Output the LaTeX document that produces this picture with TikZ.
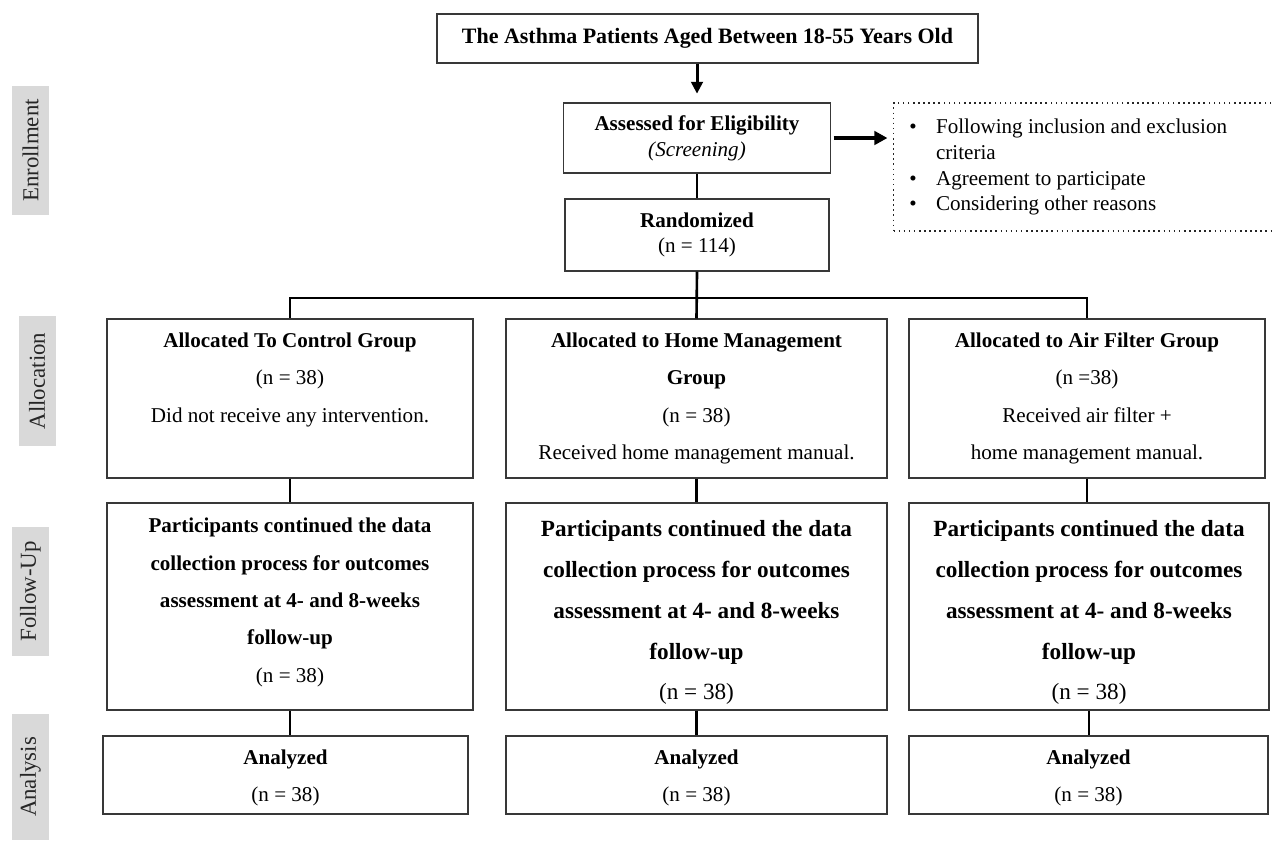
\documentclass[tikz,border=0pt]{standalone}
\usepackage{fontspec}
\setmainfont{Liberation Serif}
\usetikzlibrary{arrows.meta}

\begin{document}
\begin{tikzpicture}
[x=0.02cm, y=-0.02cm,%
  boxDecorate/.style={draw=black!78, line width=0.6pt, align=center, inner sep=0pt,
    font=\fontsize{12}{21.3}\selectfont},
  boxSize/.style 2 args={minimum width=#1*0.02cm, minimum height=#2*0.02cm},
  textDecorate/.style={align=center, inner sep=0pt},
  sideDecorate/.style={fill=black!15, rotate=90, inner sep=0pt, minimum height=37*0.02cm,
    font=\fontsize{13}{15}\selectfont, text=black!85},
  lineDecorate/.style={-, line width=1.5pt},
  arrowDecorate/.style={-{Triangle[length=6.8pt, width=6.6pt]}, line width=1.7pt}]
\useasboundingbox (0,0) rectangle (1273,840);
%% side labels
\foreach \sname/\stext/\x/\y/\len in {
  enroll/Enrollment/30.5/150.5/129, alloc/Allocation/37/381/130,
  follow/Follow-Up/30.5/591.5/129, analysis/Analysis/30.5/777/126}
{
  \node[sideDecorate, minimum width=\len*0.02cm] (side\sname) at (\x,\y) {\stext};
}
%% enrollment
\node[boxDecorate, boxSize={541}{49}, font=\fontsize{12.5}{15}\selectfont] (top) at (707.5,38.5)
  {\textbf{The Asthma Patients Aged Between 18-55 Years Old}};
\node[boxDecorate, boxSize={267}{70}, font=\fontsize{12}{14.7}\selectfont] (assessed) at (697,138)
  {\textbf{Assessed for Eligibility}\\\textit{(Screening)}};
\node[boxDecorate, boxSize={264}{72}, font=\fontsize{12}{14.7}\selectfont] (randomized) at (697,235)
  {\textbf{Randomized}\\(n = 114)};
\node[draw=black!85, dotted, line width=0.9pt, boxSize={400}{128}] (criteria) at (1093.5,167) {};
\node[anchor=west, inner sep=0pt, font=\fontsize{12}{14.7}\selectfont] (criteriaText) at (909,167)
  {\begin{tabular}{@{}l@{\hspace{11pt}}l@{}}
    \textbullet & Following inclusion and exclusion\\
                & criteria\\
    \textbullet & Agreement to participate\\
    \textbullet & Considering other reasons
  \end{tabular}};
%% allocation
\node[boxDecorate, boxSize={366}{159}] (alloc1) at (290,398.5)
  {\textbf{Allocated To Control Group}\\(n = 38)\\Did not receive any intervention.\\\vphantom{(g}};
\node[boxDecorate, boxSize={381}{159}] (alloc2) at (696.5,398.5)
  {\textbf{Allocated to Home Management}\\\textbf{Group}\\(n = 38)\\Received home management manual.};
\node[boxDecorate, boxSize={356}{159}] (alloc3) at (1087,398.5)
  {\textbf{Allocated to Air Filter Group}\\(n =38)\\Received air filter +\\home management manual.};
%% follow-up
\foreach \nodename/\x/\w/\fs/\bs/\dy in {
  follow1/290/366/12/21.3/2.3, follow2/696.5/381/13.2/23.3/-3.4,
  follow3/1089/360/13.2/23.3/-3.4}
{
  \node[boxDecorate, boxSize={\w}{207}] (\nodename) at (\x,606.5) {};
  \node[textDecorate, font=\fontsize{\fs}{\bs}\selectfont] (\nodename text) at ([yshift=\dy pt]\nodename)
    {\textbf{Participants continued the data}\\\textbf{collection process for outcomes}\\
     \textbf{assessment at 4- and 8-weeks}\\\textbf{follow-up}\\(n = 38)};
}
%% analysis
\foreach \nodename/\x/\w in {analysis1/285.5/365, analysis2/696.5/381, analysis3/1088.5/359}
{
  \node[boxDecorate, boxSize={\w}{78}] (\nodename) at (\x,775) {};
  \node[textDecorate, font=\fontsize{12}{21.3}\selectfont] (\nodename text) at ([yshift=-1.7pt]\nodename)
    {\textbf{Analyzed}\\(n = 38)};
}
%% connectors
\coordinate (split) at (697,298);
\draw[arrowDecorate] (assessed.north |- top.south) -- ([yshift=5pt]assessed.north);
\draw[arrowDecorate, line width=2.3pt, -{Triangle[length=7.4pt, width=7.6pt]}]
  ([xshift=1.5pt]assessed.east) -- ([xshift=-3pt]criteria.west |- assessed.east);
\draw[lineDecorate] (assessed.south) -- (randomized.north);
\draw[lineDecorate] (randomized.south) -- (alloc2.north);
\draw[lineDecorate] (alloc1.north) |- (split) -| (alloc3.north);
\foreach \i in {1,2,3}
{
  \draw[lineDecorate] (alloc\i.south) -- (alloc\i.south |- follow\i.north);
  \draw[lineDecorate] (follow\i.south) -- (follow\i.south |- analysis\i.north);
}
\end{tikzpicture}
\end{document}
